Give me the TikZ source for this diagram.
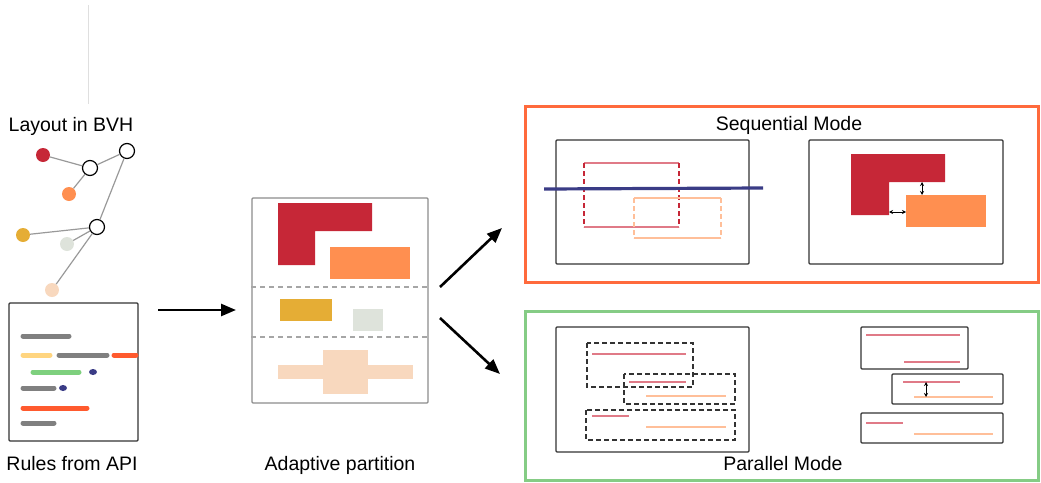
\documentclass[tikz,border=0pt]{standalone}
\usepackage{fontspec}
\setmainfont{Liberation Sans}
\usepackage{tikz}
\usetikzlibrary{calc,positioning,arrows.meta}
\definecolor{crimson}{HTML}{C62737}
\definecolor{tangerine}{HTML}{FF8F50}
\definecolor{gold}{HTML}{E5AD35}
\definecolor{sage}{HTML}{DEE3DB}
\definecolor{peach}{HTML}{F8D8BE}
\definecolor{seqred}{HTML}{FF6A3C}
\definecolor{pargreen}{HTML}{85CC85}
\definecolor{navy}{HTML}{3A3C86}
\definecolor{pinkline}{HTML}{E07A87}
\definecolor{peachline}{HTML}{FFBF99}
\definecolor{rulegray}{HTML}{808080}
\definecolor{ruleyellow}{HTML}{FFD580}
\definecolor{rulegreen}{HTML}{7ED07E}
\definecolor{ruleorange}{HTML}{FF5A2E}

\begin{document}
\begin{tikzpicture}[x=1pt,y=-1pt,
	leaf/.style={circle,fill,inner sep=0pt,minimum size=14pt},
	bvh/.style={circle,draw,line width=1.2pt,fill=white,inner sep=0pt,minimum size=15pt},
	link/.style={draw=gray!80,line width=1.2pt},
	bar/.style={line width=5pt,line cap=round},
	txt/.style={font=\fontsize{19.5}{23}\selectfont,anchor=base},
	box/.style={draw=black!80,line width=1.3pt,rounded corners=1pt,inner sep=0pt},
	dbox/.style={draw=black!80,line width=1.3pt,dash pattern=on 5pt off 3pt},
	ray/.style={line width=2pt},
	big/.style={-{Triangle[length=15pt,width=12pt]},line width=2.6pt},
	gap/.style={{Stealth[length=4pt,width=4pt]}-{Stealth[length=4pt,width=4pt]},line width=1pt}]
	\useasboundingbox (0,0) rectangle (1041,482);
	\draw[gray!25] (88,5) -- (88,104);
	\node(layout) [txt] at (71,131) {Layout in BVH};
	\node(t1) [bvh] at (127,151) {};
	\node(t2) [bvh] at (90,168) {};
	\node(t3) [bvh] at (97,227) {};
	\node(l1) [leaf,crimson] at (43,155) {};
	\node(l2) [leaf,tangerine] at (69,194) {};
	\node(l3) [leaf,gold] at (23,235) {};
	\node(l4) [leaf,sage] at (67,244) {};
	\node(l5) [leaf,peach] at (52,290) {};
	\draw[link] (l1) -- (t2);
	\draw[link] (t2) -- (t1);
	\draw[link] (t2) -- (l2);
	\draw[link] (t1) -- (t3);
	\draw[link] (t3) -- (l3);
	\draw[link] (t3) -- (l4);
	\draw[link] (t3) -- (l5);
	\node(rules) [box,minimum width=129pt,minimum height=138pt] at (73.5,372) {};
	\draw[bar,rulegray] (23,336) -- (69,336);
	\draw[bar,ruleyellow] (23,355) -- (50,355);
	\draw[bar,rulegray] (59,355) -- (107,355);
	\draw[bar,ruleorange] (114,355) -- (136,355);
	\draw[bar,rulegreen] (33,372) -- (79,372);
	\fill[navy] (93,372) ellipse (4 and 3);
	\draw[bar,rulegray] (23,388) -- (54,388);
	\fill[navy] (63,388) ellipse (4 and 3);
	\draw[bar,ruleorange] (23,408) -- (87,408);
	\draw[bar,rulegray] (23,423) -- (54,423);
	\node(api) [txt] at (72,470) {Rules from API};
	\node(part) [box,draw=black!45,minimum width=176pt,minimum height=205pt] at (340,300.5) {};
	\draw[black!35,line width=1.3pt,dash pattern=on 5pt off 4pt] (part.west |- 0,287) -- (part.east |- 0,287);
	\draw[black!35,line width=1.3pt,dash pattern=on 5pt off 4pt] (part.west |- 0,337) -- (part.east |- 0,337);
	\fill[crimson] (278,203) -| (372,231) -| (315,265) -| cycle;
	\fill[tangerine] (330,247) rectangle (410,279);
	\fill[gold] (280,299) rectangle (332,321);
	\fill[sage] (353,309) rectangle (383,331);
	\fill[peach] (278,365) rectangle (413,379);
	\fill[peach] (323,350) rectangle (368,394);
	\node(adapt) [txt] at (340,470) {Adaptive partition};
	\coordinate(a1) at (158,310);
	\coordinate(a2) at (236,310);
	\coordinate(b1) at (440,287);
	\coordinate(b2) at (502,228);
	\coordinate(c1) at (440,318);
	\coordinate(c2) at (500,374);
	\draw[big] (a1) -- (a2);
	\draw[big] (b1) -- (b2);
	\draw[big] (c1) -- (c2);
	\node(seq) [draw=seqred,line width=3pt,minimum width=513pt,minimum height=176pt,inner sep=0pt] at (781.5,194) {};
	\node(seqtitle) [txt] at (789,130) {Sequential Mode};
	\node(seqa) [box,minimum width=193pt,minimum height=124pt] at (652.5,202) {};
	\draw[ray,pinkline] (584,163) -- (679,163) (584,227) -- (679,227);
	\draw[ray,crimson,dash pattern=on 5pt off 3pt] (584,163) -- (584,227) (679,163) -- (679,227);
	\draw[ray,peachline] (634,198) -- (721,198) (634,238) -- (721,238);
	\draw[ray,peachline,dash pattern=on 5pt off 3pt] (634,198) -- (634,238) (721,198) -- (721,238);
	\draw[navy,line width=3.2pt] (544,189) -- (763,188);
	\node(seqb) [box,minimum width=194pt,minimum height=124pt] at (906,202) {};
	\fill[crimson] (851,154) -| (945,182) -| (889,215) -| cycle;
	\fill[tangerine] (906,195) rectangle (986,227);
	\draw[gap] (922,182) -- (922,195);
	\draw[gap] (889,212) -- (906,212);
	\node(par) [draw=pargreen,line width=3pt,minimum width=513pt,minimum height=169pt,inner sep=0pt] at (781.5,395.5) {};
	\node(partitle) [txt] at (783,470) {Parallel Mode};
	\node(para) [box,minimum width=193pt,minimum height=125pt] at (652.5,389.5) {};
	\draw[dbox] (587,343) rectangle (693,387);
	\draw[dbox] (624,374) rectangle (735,404);
	\draw[dbox] (586,410) rectangle (735,440);
	\draw[ray,pinkline] (592,354) -- (686,354);
	\draw[ray,pinkline] (629,382) -- (686,382);
	\draw[ray,pinkline] (592,416) -- (629,416);
	\draw[ray,peachline] (646,396) -- (726,396);
	\draw[ray,peachline] (646,427) -- (726,427);
	\node(parb) [box,minimum width=107pt,minimum height=42pt] at (914.5,348) {};
	\node(parc) [box,minimum width=111pt,minimum height=30pt] at (947.5,389) {};
	\node(pard) [box,minimum width=142pt,minimum height=30pt] at (932,428) {};
	\draw[ray,pinkline] (866,335) -- (960,335);
	\draw[ray,pinkline] (904,362) -- (960,362);
	\draw[ray,pinkline] (903,382) -- (960,382);
	\draw[ray,peachline] (914,397) -- (993,397);
	\draw[gap] (926,382) -- (926,397);
	\draw[ray,pinkline] (866,423) -- (903,423);
	\draw[ray,peachline] (914,434) -- (993,434);
\end{tikzpicture}
\end{document}
